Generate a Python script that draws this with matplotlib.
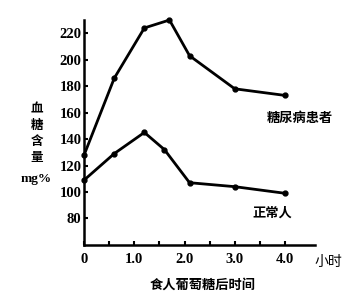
import matplotlib
matplotlib.use("Agg")
import matplotlib.pyplot as plt

#------------------------------------------------------------------------------
# data

hours_d = [0, 0.6, 1.2, 1.7, 2.1, 3.0, 4.0]                                   # 糖尿病患者
sugar_d = [128, 186, 224, 230, 203, 178, 173]

hours_n = [0, 0.6, 1.2, 1.6, 2.1, 3.0, 4.0]                                   # 正常人
sugar_n = [109, 129, 145, 132, 107, 104, 99]

xticks = [0, 1.0, 2.0, 3.0, 4.0]
xtick_labels = ["0", "1.0", "2.0", "3.0", "4.0"]
yticks = [80, 100, 120, 140, 160, 180, 200, 220]

#------------------------------------------------------------------------------

cjk = ["Noto Sans CJK SC", "DejaVu Sans"]
serif = "Liberation Serif"

fig = plt.figure(figsize=(3.58, 3.08), dpi=100)
ax = fig.add_axes([0.235, 0.205, 0.645, 0.73])

ax.plot(hours_d, sugar_d, color="black", lw=2, marker="o", ms=3.5, clip_on=False)
ax.plot(hours_n, sugar_n, color="black", lw=2, marker="o", ms=3.5, clip_on=False)

ax.set_xlim(0, 4.6)
ax.set_ylim(60, 230)

for s in ["top", "right"]:
    ax.spines[s].set_visible(False)
for s in ["left", "bottom"]:
    ax.spines[s].set_linewidth(1.8)

# minor half-hour ticks have no label
ax.set_xticks([0, 0.5, 1.0, 1.5, 2.0, 2.5, 3.0, 3.5, 4.0])
ax.set_xticklabels(["0", "", "1.0", "", "2.0", "", "3.0", "", "4.0"])
ax.set_yticks(yticks)
ax.set_yticklabels([str(v) for v in yticks])
ax.tick_params(direction="in", length=3, width=1.5, labelsize=10.5)
ax.tick_params(axis="x", pad=6)
ax.tick_params(axis="y", pad=2)
for lab in ax.get_xticklabels() + ax.get_yticklabels():
    lab.set_fontfamily(serif)
    lab.set_fontweight("bold")

# labels
fig.text(0.103, 0.567, "血\n糖\n含\n量", family=cjk, weight="bold", fontsize=9,
         ha="center", va="center", linespacing=1.3)
fig.text(0.100, 0.418, "mg%", family=serif, weight="bold", fontsize=9.5,
         ha="center", va="center")
ax.text(4.3, 156, "糖尿病患者", family=cjk, weight="bold", fontsize=9.5, ha="center", va="center")
ax.text(3.75, 90, "正常人", family=cjk, weight="bold", fontsize=9.5, ha="center", va="top")
fig.text(0.917, 0.15, "小时", family=cjk, fontsize=10, ha="center", va="center")
fig.text(0.567, 0.075, "食人葡萄糖后时间", family=cjk, weight="bold", fontsize=9.5,
         ha="center", va="center")

fig.savefig("out.png", dpi=100)
